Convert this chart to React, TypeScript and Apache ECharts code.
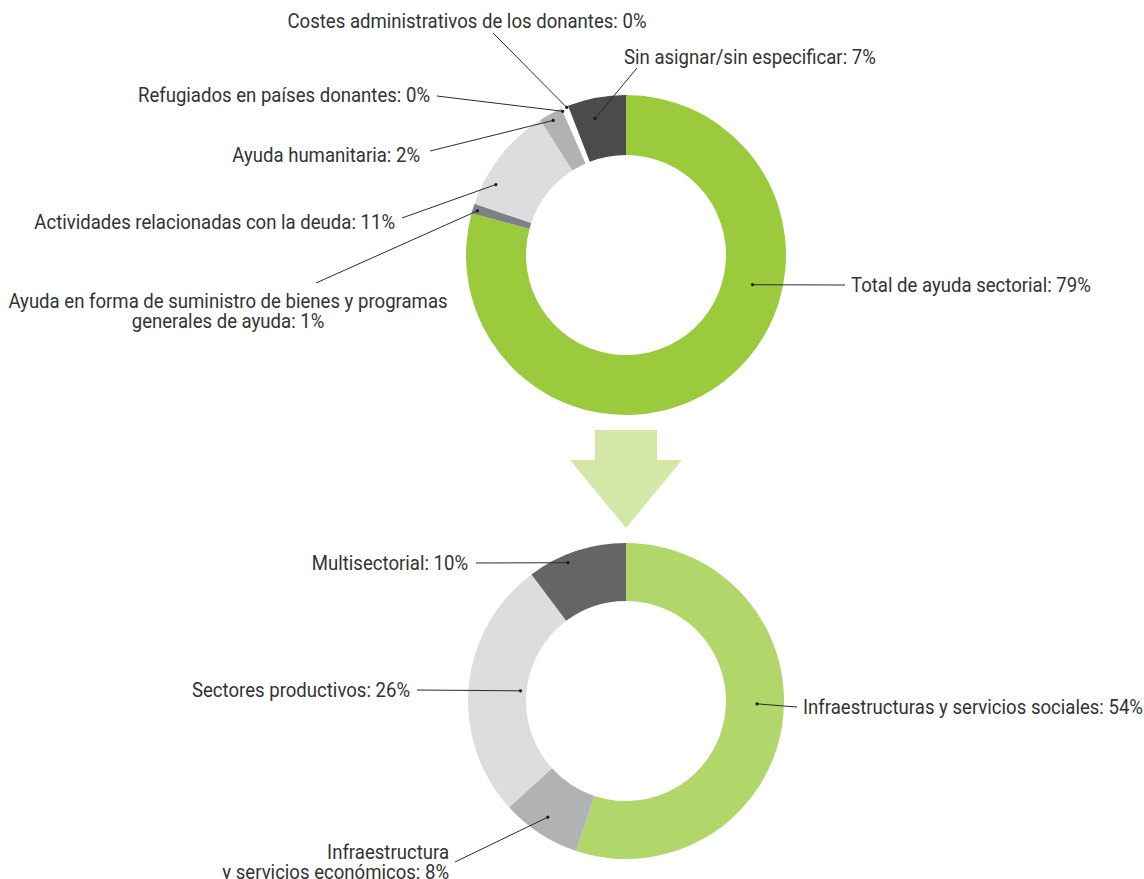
import React, { useEffect, useRef } from "react";
import * as echarts from "echarts";

// ---- Data ----
const topCategories = [
  "Total de ayuda sectorial",
  "Ayuda en forma de suministro de bienes y programas generales de ayuda",
  "Actividades relacionadas con la deuda",
  "Ayuda humanitaria",
  "Refugiados en países donantes",
  "Costes administrativos de los donantes",
  "Sin asignar/sin especificar",
];
const topValues = [79.2, 1.0, 10.8, 2.4, 0.35, 0.35, 5.9];
const topLabels = [
  "Total de ayuda sectorial: 79%",
  "Ayuda en forma de suministro de bienes y programas\ngenerales de ayuda: 1%",
  "Actividades relacionadas con la deuda: 11%",
  "Ayuda humanitaria: 2%",
  "Refugiados en países donantes: 0%",
  "Costes administrativos de los donantes: 0%",
  "Sin asignar/sin especificar: 7%",
];

const bottomCategories = [
  "Infraestructuras y servicios sociales",
  "Infraestructura y servicios económicos",
  "Sectores productivos",
  "Multisectorial",
];
const bottomValues = [54, 8, 26, 10];
const bottomLabels = [
  "Infraestructuras y servicios sociales: 54%",
  "Infraestructura\ny servicios económicos: 8%",
  "Sectores productivos: 26%",
  "Multisectorial: 10%",
];

// ---- Styles / layout ----
const topColors = ["#9BCB3C", "#808184", "#DCDDDF", "#B1B2B4", "#FFFFFF", "#FFFFFF", "#4A4B4D"];
const bottomColors = ["#B1D66A", "#B1B2B4", "#DCDDDF", "#646567"];
const TOP = { cx: 626, cy: 255, r0: 100, r1: 160 };
const BOT = { cx: 626, cy: 701, r0: 100, r1: 158 };
const FONT = "'Liberation Sans Narrow', 'Arial Narrow', 'Roboto', sans-serif";
const FONT_SIZE = 21;
const TEXT_SCALE_X = 0.885;
const TEXT_COLOR = "#333333";

// dot: t = fraction along the slice, r = radius; text anchor & line start
type LabelLayout = { t: number; r: number; tx: number; ty: number; align: string; lx: number; ly: number };
const topLayout: LabelLayout[] = [
  { t: 0.362, r: 130, tx: 851, ty: 285, align: "left", lx: 845, ly: 285 },
  { t: 0.4, r: 155, tx: 228, ty: 311, align: "center", lx: 316, ly: 283 },
  { t: 0.25, r: 148, tx: 395, ty: 222, align: "right", lx: 402, ly: 218 },
  { t: 0.46, r: 153, tx: 420, ty: 155, align: "right", lx: 430, ly: 151 },
  { t: 0.0, r: 157, tx: 430, ty: 95, align: "right", lx: 437, ly: 96 },
  { t: 0.5, r: 159, tx: 467, ty: 21, align: "center", lx: 493, ly: 33 },
  { t: 0.4, r: 140, tx: 624, ty: 57, align: "left", lx: 637, ly: 68 },
];
const bottomLayout: LabelLayout[] = [
  { t: 0.46, r: 131, tx: 803, ty: 707, align: "left", lx: 797, ly: 707 },
  { t: 0.53, r: 140, tx: 449, ty: 862, align: "right", lx: 455, ly: 862 },
  { t: 0.5, r: 106, tx: 410, ty: 690, align: "right", lx: 417, ly: 690 },
  { t: 0.38, r: 150, tx: 468, ty: 563, align: "right", lx: 476, ly: 563 },
];

function sliceAngles(values: number[]) {
  const sum = values.reduce((a, b) => a + b, 0);
  let acc = 0;
  return values.map((v) => {
    const s = (acc / sum) * 360;
    acc += v;
    const e = (acc / sum) * 360;
    return [s, e];
  });
}

function annotations(values: number[], labels: string[], layout: LabelLayout[], geo: typeof TOP) {
  const angles = sliceAngles(values);
  const els: any[] = [];
  labels.forEach((txt, i) => {
    const L = layout[i];
    const [s, e] = angles[i];
    const a = ((s + (e - s) * L.t) * Math.PI) / 180;
    const dx = geo.cx + Math.sin(a) * L.r;
    const dy = geo.cy - Math.cos(a) * L.r;
    els.push({
      type: "line",
      shape: { x1: L.lx, y1: L.ly, x2: dx, y2: dy },
      style: { stroke: "#2b2b2b", lineWidth: 1 },
      z: 10,
    });
    els.push({
      type: "circle",
      shape: { cx: dx, cy: dy, r: 1.6 },
      style: { fill: "#1a1a1a" },
      z: 11,
    });
    els.push({
      type: "text",
      x: L.tx,
      y: L.ty,
      scaleX: TEXT_SCALE_X,
      style: {
        text: txt,
        font: `${FONT_SIZE}px ${FONT}`,
        fill: TEXT_COLOR,
        align: L.align,
        verticalAlign: "middle",
        lineHeight: 20,
      },
      z: 10,
    });
  });
  return els;
}

export default function App() {
  const ref = useRef<HTMLDivElement>(null);
  useEffect(() => {
    if (!ref.current) return;
    const chart = echarts.init(ref.current, undefined, { renderer: "svg" });
    const pieBase = {
      type: "pie",
      startAngle: 90,
      clockwise: true,
      silent: true,
      label: { show: false },
      labelLine: { show: false },
      emphasis: { disabled: true },
      itemStyle: { borderWidth: 0 },
    };
    chart.setOption({
      animation: false,
      backgroundColor: "#FFFFFF",
      series: [
        {
          ...pieBase,
          center: [TOP.cx, TOP.cy],
          radius: [TOP.r0, TOP.r1],
          data: topCategories.map((n, i) => ({
            name: n,
            value: topValues[i],
            itemStyle: { color: topColors[i] },
          })),
        },
        {
          ...pieBase,
          center: [BOT.cx, BOT.cy],
          radius: [BOT.r0, BOT.r1],
          data: bottomCategories.map((n, i) => ({
            name: n,
            value: bottomValues[i],
            itemStyle: { color: bottomColors[i] },
          })),
        },
      ],
      graphic: [
        {
          type: "polygon",
          shape: {
            points: [
              [595, 430],
              [657, 430],
              [657, 460],
              [682, 460],
              [626, 528],
              [570, 460],
              [595, 460],
            ],
          },
          style: { fill: "#D3E7A6" },
        },
        ...annotations(topValues, topLabels, topLayout, TOP),
        ...annotations(bottomValues, bottomLabels, bottomLayout, BOT),
      ],
    });
    return () => chart.dispose();
  }, []);
  return (
    <div
      ref={ref}
      style={{ position: "fixed", left: 0, top: 0, width: 1144, height: 879 }}
    />
  );
}
